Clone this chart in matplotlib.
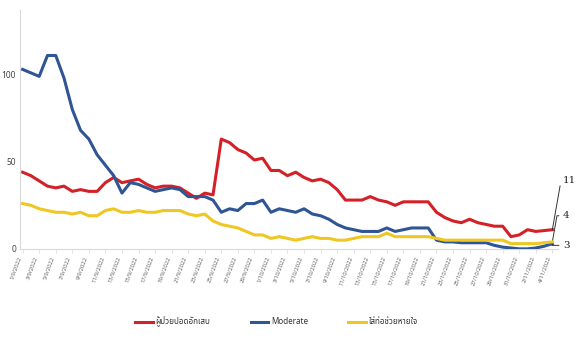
import matplotlib
matplotlib.use("Agg")
import matplotlib.pyplot as plt
from matplotlib import font_manager

# ---- data ----
pneumonia = [44, 42, 39, 36, 35, 36, 33, 34, 33, 33, 38, 41, 38, 39, 40, 37, 35, 36, 36, 35,
             32, 29, 32, 31, 63, 61, 57, 55, 51, 52, 45, 45, 42, 44, 41, 39, 40, 38, 34, 28,
             28, 28, 30, 28, 27, 25, 27, 27, 27, 27, 21, 18, 16, 15, 17, 15, 14, 13, 13, 7,
             8, 11, 10, 10.5, 11]
moderate = [103, 101, 99, 111, 111, 98, 80, 68, 63, 54, 48, 42, 32, 38, 37, 35, 33, 34, 35, 34,
            30, 30, 30, 28, 21, 23, 22, 26, 26, 28, 21, 23, 22, 21, 23, 20, 19, 17, 14, 12,
            11, 10, 10, 10, 12, 10, 11, 12, 12, 12, 5, 4, 4, 3.5, 3.5, 3.5, 3.5, 2, 1, 0.5,
            0, 0, 0.5, 1.5, 3]
intubated = [26, 25, 23, 22, 21, 21, 20, 21, 19, 19, 22, 23, 21, 21, 22, 21, 21, 22, 22, 22,
             20, 19, 20, 16, 14, 13, 12, 10, 8, 8, 6, 7, 6, 5, 6, 7, 6, 6, 5, 5,
             6, 7, 7, 7, 9, 7, 7, 7, 7, 7, 6, 5, 5, 5, 5, 5, 5, 5, 5, 3,
             3, 3, 3, 3.5, 4]
tick_labels = ["1/9/2022", "3/9/2022", "5/9/2022", "7/9/2022", "9/9/2022", "11/9/2022",
               "13/9/2022", "15/9/2022", "17/9/2022", "19/9/2022", "21/9/2022", "23/9/2022",
               "25/9/2022", "27/9/2022", "29/9/2022", "1/10/2022", "3/10/2022", "5/10/2022",
               "7/10/2022", "9/10/2022", "11/10/2022", "13/10/2022", "15/10/2022", "17/10/2022",
               "19/10/2022", "21/10/2022", "23/10/2022", "25/10/2022", "27/10/2022", "29/10/2022",
               "31/10/2022", "2/11/2022", "4/11/2022"]
series_names = ["ผู้ป่วยปอดอักเสบ", "Moderate", "ใส่ท่อช่วยหายใจ"]
end_labels = ["11", "4", "3"]
y_ticks = [0, 50, 100]

# ---- fonts ----
available = {f.name for f in font_manager.fontManager.ttflist}
thai_fams = [f for f in ["Noto Sans Thai", "Noto Sans Thai Looped", "Loma", "Garuda",
                         "Tlwg Typo", "Noto Sans", "DejaVu Sans"] if f in available]
if not thai_fams:
    thai_fams = ["DejaVu Sans"]
plt.rcParams['font.family'] = thai_fams

colors = ["#d42027", "#2f5595", "#f0c722"]

fig = plt.figure(figsize=(5.76, 3.51), dpi=100)
ax = fig.add_axes([0.035, 0.291, 0.934, 0.68])

x = list(range(len(pneumonia)))
for i, (vals, c) in enumerate(zip([pneumonia, moderate, intubated], colors)):
    ax.plot(x, vals, color=c, lw=2.2, label=series_names[i], zorder=2 + i,
            solid_joinstyle='round')

ax.set_xlim(-0.3, len(x) - 1 + 0.7)
ax.set_ylim(0, 137)
ax.set_yticks(y_ticks)
ax.set_yticklabels([str(v) for v in y_ticks], fontsize=6, color="#444444")
tick_pos = list(range(0, len(x), 2))
ax.set_xticks(tick_pos)
ax.set_xticklabels(tick_labels, rotation=70, ha='right', fontsize=4.2, color="#666666")
ax.tick_params(axis='y', length=0, pad=3)
ax.tick_params(axis='x', length=3, color="#dddddd", width=0.6, pad=2)
for s in ["top", "right"]:
    ax.spines[s].set_visible(False)
for s in ["left", "bottom"]:
    ax.spines[s].set_color("#d9d9d9")
    ax.spines[s].set_linewidth(0.8)

# end-point callouts
last = len(x) - 1
callouts = [(pneumonia[-1], end_labels[0], 39), (intubated[-1], end_labels[1], 19), (moderate[-1], end_labels[2], 2)]
for yv, txt, ytxt in callouts:
    ax.annotate(txt, xy=(last, yv), xytext=(last + 1.3, ytxt), fontsize=7.5,
                family="DejaVu Serif", color="#222222", va='center', ha='left',
                annotation_clip=False,
                arrowprops=dict(arrowstyle='-', color="#333333", lw=0.7,
                                connectionstyle="angle,angleA=0,angleB=80,rad=0",
                                shrinkA=1, shrinkB=0))

leg = fig.legend(loc='center', bbox_to_anchor=(0.48, 0.083), ncol=3, frameon=False,
                 fontsize=5.8, handlelength=2.2, columnspacing=5.0, handletextpad=0.3)
for t in leg.get_texts():
    t.set_color("#333333")

fig.savefig("out.png", dpi=100)
